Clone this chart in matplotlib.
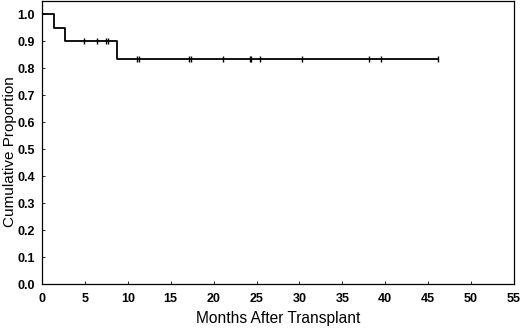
import matplotlib
matplotlib.use("Agg")
import matplotlib.pyplot as plt

# Kaplan-Meier step curve (event times and survival after each step)
step_times = [0.0, 1.36, 2.7, 8.77, 46.1]
step_surv = [1.0, 0.95, 0.90, 0.836, 0.836]

# Censored observations
censor_times = [4.93, 6.44, 7.42, 7.65, 11.04, 11.34, 17.15, 17.35, 21.1,
                24.2, 24.4, 25.4, 30.3, 38.1, 39.5, 46.1]
censor_surv = [0.90, 0.90, 0.90, 0.90, 0.836, 0.836, 0.836, 0.836, 0.836,
               0.836, 0.836, 0.836, 0.836, 0.836, 0.836, 0.836]

x_ticks = [0, 5, 10, 15, 20, 25, 30, 35, 40, 45, 50, 55]
y_ticks = [0.0, 0.1, 0.2, 0.3, 0.4, 0.5, 0.6, 0.7, 0.8, 0.9, 1.0]

plt.rcParams['font.family'] = ['Liberation Sans', 'DejaVu Sans']

fig = plt.figure(figsize=(5.2, 3.3), dpi=100)
ax = fig.add_axes([0.0808, 0.1385, 0.9077, 0.8585])

ax.step(step_times, step_surv, where='post', color='black', lw=1.3)
ax.plot(censor_times, censor_surv, linestyle='none', marker='|',
        color='black', markersize=5, markeredgewidth=1.0)

ax.set_xlim(0, 55)
ax.set_ylim(0, 1.05)
ax.set_xticks(x_ticks)
ax.set_yticks(y_ticks)
ax.set_xticklabels([str(v) for v in x_ticks], fontweight='bold', fontsize=9)
ax.set_yticklabels([f"{v:.1f}" for v in y_ticks], fontweight='bold', fontsize=9)
ax.tick_params(direction='in', length=2.5, width=0.6)
ax.tick_params(axis='x', pad=6)
ax.tick_params(axis='y', pad=5)
for s in ax.spines.values():
    s.set_linewidth(0.9)

ax.set_xlabel("Months After Transplant", fontsize=11.2)
ax.xaxis.set_label_coords(0.5, -0.095)
ax.set_ylabel("Cumulative Proportion", fontsize=11)
ax.yaxis.set_label_coords(-0.053, 0.47)

fig.savefig("out.png", dpi=100)
